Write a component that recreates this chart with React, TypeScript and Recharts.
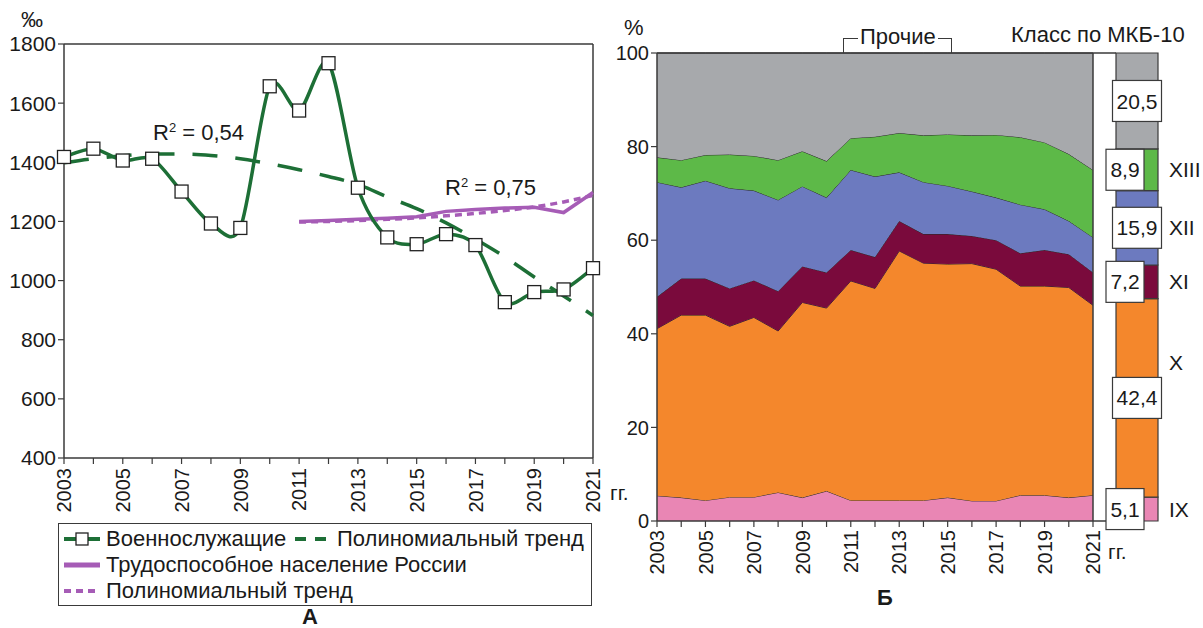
import React from 'react';
import {
  LineChart, Line, XAxis, YAxis, ReferenceLine,
  AreaChart, Area, BarChart, Bar, LabelList,
} from 'recharts';

// ---------- DATA ----------
const years = [2003, 2004, 2005, 2006, 2007, 2008, 2009, 2010, 2011, 2012, 2013, 2014, 2015, 2016, 2017, 2018, 2019, 2020, 2021];

// Panel A (‰)
const soldiers = [1418, 1446, 1406, 1412, 1301, 1193, 1178, 1657, 1575, 1735, 1314, 1146, 1123, 1157, 1120, 927, 961, 970, 1042];
const soldiersTrend = [1398, 1412, 1422, 1428, 1428, 1423, 1412, 1395, 1375, 1352, 1325, 1283, 1243, 1195, 1140, 1080, 1012, 948, 882];
const population = [null, null, null, null, null, null, null, null, 1200, 1203, 1207, 1211, 1216, 1234, 1240, 1245, 1248, 1230, 1298];
const populationTrend = [null, null, null, null, null, null, null, null, 1198, 1200, 1203, 1207, 1212, 1219, 1227, 1237, 1249, 1266, 1288];
const leftTicks = [400, 600, 800, 1000, 1200, 1400, 1600, 1800];

// Panel Б (% by ICD-10 class)
const classIX = [5.4, 5.0, 4.4, 5.1, 5.1, 6.1, 5.0, 6.4, 4.4, 4.4, 4.4, 4.4, 5.0, 4.3, 4.3, 5.5, 5.5, 5.0, 5.5];
const classX = [35.7, 39.0, 39.6, 36.5, 38.4, 34.5, 41.7, 39.1, 46.9, 45.3, 53.3, 50.7, 49.9, 50.7, 49.5, 44.7, 44.7, 44.9, 40.6];
const classXI = [6.8, 7.8, 7.8, 8.1, 7.9, 8.5, 7.7, 7.6, 6.6, 6.7, 6.4, 6.2, 6.4, 5.9, 6.2, 7.0, 7.7, 7.1, 7.0];
const classXII = [24.5, 19.5, 20.9, 21.4, 19.2, 19.5, 17.1, 16.0, 17.1, 17.2, 10.4, 11.1, 10.3, 9.5, 9.1, 10.4, 8.7, 7.1, 7.5];
const classXIII = [5.3, 5.8, 5.5, 7.2, 7.4, 8.5, 7.5, 7.8, 6.8, 8.5, 8.4, 10.0, 11.0, 12.0, 13.4, 14.4, 14.3, 14.3, 14.4];
const classOther = [22.3, 22.9, 21.8, 21.7, 22.0, 22.9, 21.0, 23.1, 18.2, 17.9, 17.1, 17.6, 17.4, 17.6, 17.5, 18.0, 19.1, 21.6, 25.0];
const rightTicks = [0, 20, 40, 60, 80, 100];

// Average structure 2003–2021 (side bar)
const classKeys = ['IX', 'X', 'XI', 'XII', 'XIII', 'other'];
const classRoman = ['IX', 'X', 'XI', 'XII', 'XIII', ''];
const avgValues = [5.1, 42.4, 7.2, 15.9, 8.9, 20.5];

// ---------- STYLES ----------
const FONT = '"Liberation Sans", Arial, sans-serif';
const TXT = '#1a1a1a';
const FRAME = '#3a3a3a';
const GREEN = '#1d6f36';
const PURPLE = '#a65cb6';
const classColors = ['#e986b4', '#f4872c', '#7a0a3c', '#6c7abf', '#5db948', '#a7a9ac'];
const boxStyle = [
  { w: 38, dx: -12 }, { w: 49, dx: 0 }, { w: 38, dx: -12 },
  { w: 49, dx: 0 }, { w: 38, dx: -12 }, { w: 49, dx: 0 },
];
const romanDy = [0, -35, 0, 0, 0, 0];

// ---------- DERIVED TABLES ----------
const leftData = years.map((y, i) => ({
  year: y,
  soldiers: soldiers[i],
  soldiersTrend: soldiersTrend[i],
  population: population[i],
  populationTrend: populationTrend[i],
}));

const rightData = years.map((y, i) => ({
  year: y,
  IX: classIX[i], X: classX[i], XI: classXI[i], XII: classXII[i], XIII: classXIII[i], other: classOther[i],
}));

const barRow: Record<string, any> = { name: '2003–2021' };
classKeys.forEach((k, i) => { barRow[k] = avgValues[i]; });
const barData = [barRow];

// Excel-like smoothed curve through the points
const SMOOTH = 7;
const smoothCurve: any = (context: any) => {
  let pts: number[][] = [];
  return {
    areaStart() {}, areaEnd() {},
    lineStart() { pts = []; },
    point(x: number, y: number) { pts.push([+x, +y]); },
    lineEnd() {
      const n = pts.length;
      if (!n) return;
      context.moveTo(pts[0][0], pts[0][1]);
      for (let i = 0; i < n - 1; i++) {
        const p0 = pts[i - 1] || pts[i];
        const p1 = pts[i];
        const p2 = pts[i + 1];
        const p3 = pts[i + 2] || p2;
        context.bezierCurveTo(
          p1[0] + (p2[0] - p0[0]) / SMOOTH, p1[1] + (p2[1] - p0[1]) / SMOOTH,
          p2[0] - (p3[0] - p1[0]) / SMOOTH, p2[1] - (p3[1] - p1[1]) / SMOOTH,
          p2[0], p2[1],
        );
      }
    },
  };
};

const YearTick = (props: any) => {
  const { x, y, payload } = props;
  if (payload.value % 2 === 0) return <g />;
  return (
    <text x={x} y={y} transform={`rotate(-90, ${x}, ${y})`} textAnchor="end" dy="0.36em"
      fontSize={20} fill={TXT} fontFamily={FONT}>{payload.value}</text>
  );
};

const SquareDot = (props: any) => {
  const { cx, cy, index } = props;
  if (cx == null || cy == null) return <g key={index} />;
  return <rect key={index} x={cx - 6.5} y={cy - 6.5} width={13} height={13} fill="#fff" stroke="#222" strokeWidth={1.3} />;
};

const fmt = (v: number) => String(v).replace('.', ',');

const makeBarLabel = (i: number) => (props: any) => {
  const vb = props.viewBox && props.viewBox.width != null ? props.viewBox : props;
  const x = Number(vb.x), y = Number(vb.y), w = Number(vb.width), h = Number(vb.height);
  const cx = x + w / 2 + boxStyle[i].dx;
  const cy = y + h / 2;
  const bw = boxStyle[i].w, bh = 41;
  return (
    <g>
      <rect x={cx - bw / 2} y={cy - bh / 2} width={bw} height={bh} fill="#fff" stroke={FRAME} strokeWidth={1.2} />
      <text x={cx} y={cy} dy="0.36em" textAnchor="middle" fontSize={21} fill={TXT} fontFamily={FONT}>{fmt(avgValues[i])}</text>
      {classRoman[i] ? (
        <text x={x + w + 11} y={cy + romanDy[i]} dy="0.36em" fontSize={21} fill={TXT} fontFamily={FONT}>{classRoman[i]}</text>
      ) : null}
    </g>
  );
};

const Txt = ({ left, top, size = 22, bold = false, children, style = {} }: any) => (
  <div style={{ position: 'absolute', left, top, fontSize: size, lineHeight: 1, fontFamily: FONT, color: TXT, fontWeight: bold ? 700 : 400, whiteSpace: 'nowrap', ...style }}>
    {children}
  </div>
);

const LegendIcon = ({ kind }: { kind: string }) => (
  <svg width={36} height={16} style={{ position: 'absolute', top: -8 }}>
    {kind === 'soldiers' && (<>
      <line x1={0} y1={8} x2={36} y2={8} stroke={GREEN} strokeWidth={4} />
      <rect x={12} y={2} width={12} height={12} fill="#fff" stroke="#222" strokeWidth={1.3} />
    </>)}
    {kind === 'trend' && <line x1={0} y1={8} x2={36} y2={8} stroke={GREEN} strokeWidth={4} strokeDasharray="11 9" />}
    {kind === 'pop' && <line x1={0} y1={8} x2={36} y2={8} stroke={PURPLE} strokeWidth={5} />}
    {kind === 'popTrend' && <line x1={0} y1={8} x2={36} y2={8} stroke={PURPLE} strokeWidth={4} strokeDasharray="7 5" />}
  </svg>
);

const LegendItem = ({ left, top, kind, label }: any) => (
  <div style={{ position: 'absolute', left, top }}>
    <div style={{ position: 'absolute', left: 0, top: 0 }}><LegendIcon kind={kind} /></div>
    <div style={{ position: 'absolute', left: 42, top: -11, fontSize: 22, lineHeight: 1, fontFamily: FONT, color: TXT, whiteSpace: 'nowrap' }}>{label}</div>
  </div>
);

export default function App() {
  return (
    <div style={{ position: 'absolute', left: 0, top: 0, width: 1203, height: 628, background: '#fff', overflow: 'hidden', fontFamily: FONT }}>
      {/* ---------- Panel A ---------- */}
      <div style={{ position: 'absolute', left: 0, top: 0 }}>
        <LineChart width={610} height={520} data={leftData} margin={{ top: 44, right: 17, left: 4, bottom: 6 }}>
          <XAxis dataKey="year" type="number" domain={[2003, 2021]} ticks={years} interval={0}
            tick={<YearTick />} tickSize={6} tickMargin={4} height={56}
            axisLine={{ stroke: FRAME, strokeWidth: 1.5 }} tickLine={{ stroke: FRAME, strokeWidth: 1.2 }} />
          <YAxis domain={[400, 1800]} ticks={leftTicks} interval={0} width={60} tickSize={6} tickMargin={2}
            tick={{ fontSize: 21, fill: TXT, fontFamily: FONT }}
            axisLine={{ stroke: FRAME, strokeWidth: 1.5 }} tickLine={{ stroke: FRAME, strokeWidth: 1.2 }} />
          <ReferenceLine y={1800} stroke={FRAME} strokeWidth={1.5} />
          <ReferenceLine x={2021} stroke={FRAME} strokeWidth={1.5} />
          <Line dataKey="soldiersTrend" type="monotone" stroke={GREEN} strokeWidth={3.5} strokeDasharray="25 18" dot={false} isAnimationActive={false} />
          <Line dataKey="populationTrend" type="monotone" stroke={PURPLE} strokeWidth={3.5} strokeDasharray="7 5" dot={false} isAnimationActive={false} />
          <Line dataKey="population" type="linear" stroke={PURPLE} strokeWidth={3.5} dot={false} isAnimationActive={false} />
          <Line dataKey="soldiers" type={smoothCurve} stroke={GREEN} strokeWidth={3.5} dot={<SquareDot />} isAnimationActive={false} />
        </LineChart>
      </div>
      <Txt left={21} top={9}>‰</Txt>
      <Txt left={153} top={121}>R<sup style={{ fontSize: 13 }}>2</sup> = 0,54</Txt>
      <Txt left={445} top={176}>R<sup style={{ fontSize: 13 }}>2</sup> = 0,75</Txt>

      {/* Legend A */}
      <div style={{ position: 'absolute', left: 58, top: 523, width: 532, height: 81, border: `1.5px solid ${FRAME}`, background: '#fff' }}>
        <LegendItem left={5} top={15} kind="soldiers" label="Военнослужащие" />
        <LegendItem left={236} top={15} kind="trend" label="Полиномиальный тренд" />
        <LegendItem left={5} top={41} kind="pop" label="Трудоспособное население России" />
        <LegendItem left={5} top={67} kind="popTrend" label="Полиномиальный тренд" />
      </div>
      <Txt left={302} top={606} bold>А</Txt>

      {/* ---------- Panel Б ---------- */}
      <div style={{ position: 'absolute', left: 600, top: 0 }}>
        <AreaChart width={520} height={628} data={rightData} margin={{ top: 53, right: 4, left: 0, bottom: 51 }}>
          <XAxis dataKey="year" type="number" domain={[2003, 2021]} ticks={years} interval={0}
            padding={{ left: 0, right: 23 }}
            tick={<YearTick />} tickSize={6} tickMargin={3} height={56}
            axisLine={{ stroke: FRAME, strokeWidth: 1.5 }} tickLine={{ stroke: FRAME, strokeWidth: 1.2 }} />
          <YAxis domain={[0, 100]} ticks={rightTicks} interval={0} width={57} tickSize={6} tickMargin={2}
            tick={{ fontSize: 20, fill: TXT, fontFamily: FONT }}
            axisLine={{ stroke: FRAME, strokeWidth: 1.5 }} tickLine={{ stroke: FRAME, strokeWidth: 1.2 }} />
          {classKeys.map((k, i) => (
            <Area key={k} dataKey={k} stackId="s" type="linear" fill={classColors[i]} fillOpacity={1}
              stroke="#2a2a2a" strokeWidth={1} isAnimationActive={false} />
          ))}
          <ReferenceLine y={100} stroke={FRAME} strokeWidth={1.5} />
          <ReferenceLine x={2021} stroke={FRAME} strokeWidth={1.5} />
        </AreaChart>
      </div>
      <div style={{ position: 'absolute', left: 1100, top: 0 }}>
        <BarChart width={103} height={628} data={barData} margin={{ top: 53, right: 45, left: 16, bottom: 107 }} barCategoryGap={0}>
          <XAxis dataKey="name" hide />
          <YAxis domain={[0, 100]} hide />
          {classKeys.map((k, i) => (
            <Bar key={k} dataKey={k} stackId="b" fill={classColors[i]} stroke={FRAME} strokeWidth={1.2} isAnimationActive={false}>
              <LabelList dataKey={k} content={makeBarLabel(i)} />
            </Bar>
          ))}
        </BarChart>
      </div>

      <Txt left={624} top={17}>%</Txt>
      <div style={{ position: 'absolute', left: 843, top: 38, width: 107, height: 14, borderTop: `1.5px solid ${FRAME}`, borderLeft: `1.5px solid ${FRAME}`, borderRight: `1.5px solid ${FRAME}` }} />
      <Txt left={858} top={26} style={{ background: '#fff', padding: '0 2px' }}>Прочие</Txt>
      <Txt left={1011} top={24}>Класс по МКБ-10</Txt>
      <Txt left={610} top={482} size={21}>гг.</Txt>
      <Txt left={1108} top={541} size={21}>гг.</Txt>
      <Txt left={877} top={587} bold>Б</Txt>
    </div>
  );
}
